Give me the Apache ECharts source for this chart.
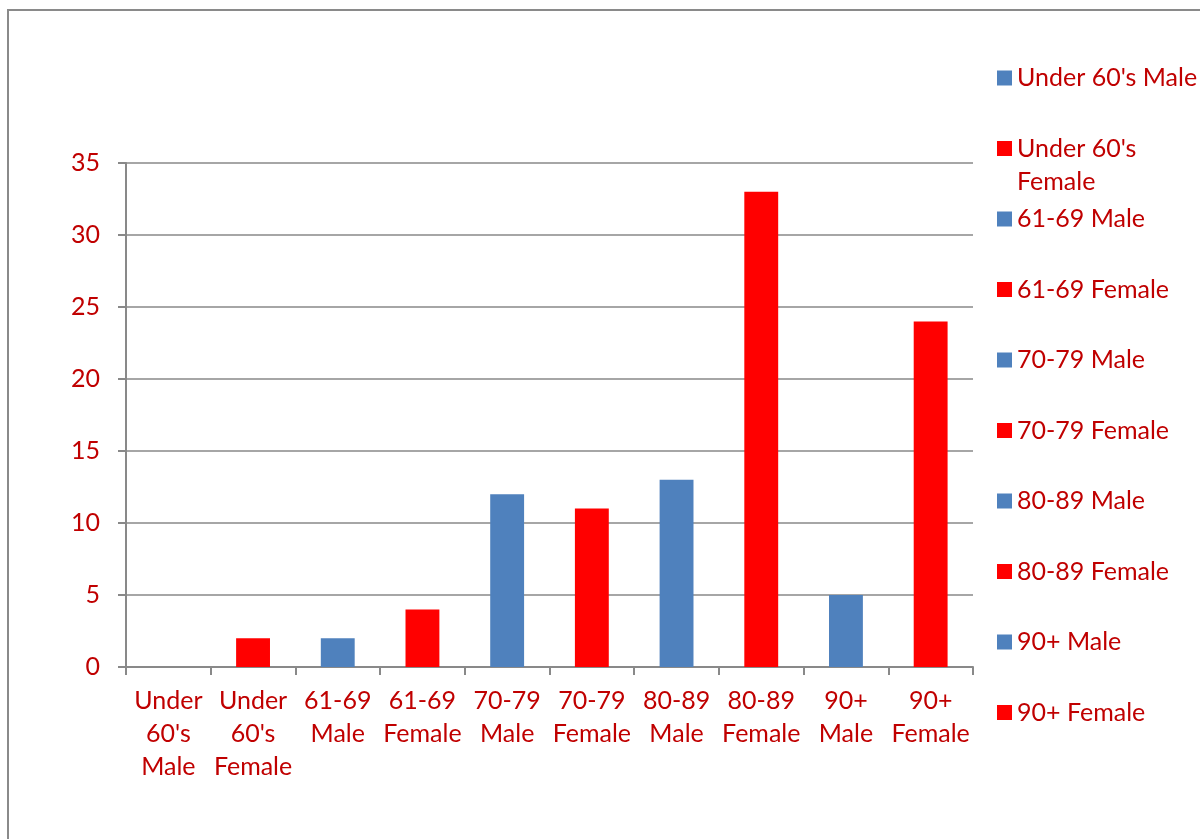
<!DOCTYPE html>
<html>
<head>
<meta charset="utf-8">
<script src="https://cdn.jsdelivr.net/npm/echarts@6/dist/echarts.min.js"></script>
<style>
  html, body { margin: 0; padding: 0; background: #fff; }
  #chart { width: 1200px; height: 839px; }
</style>
</head>
<body>
<div id="chart"></div>
<script>
// Patient counts by age band and sex
const categories = [
  "Under 60's Male", "Under 60's Female",
  "61-69 Male", "61-69 Female",
  "70-79 Male", "70-79 Female",
  "80-89 Male", "80-89 Female",
  "90+ Male", "90+ Female"
];
const values = [0, 2, 2, 4, 12, 11, 13, 33, 5, 24];
const yTicks = [0, 5, 10, 15, 20, 25, 30, 35];

const MALE = '#4f81bd';
const FEMALE = '#ff0000';
const TEXT = '#c00000';
const GRID = '#898989';
const FONT = 'Lato';
const FS = 25;

const chart = echarts.init(document.getElementById('chart'), null, { renderer: 'canvas' });

// one series per category so each gets its own legend entry; a shared stack keeps bars centred
const series = categories.map((name, i) => ({
  name: name,
  type: 'bar',
  stack: 'all',
  barWidth: '40%',
  itemStyle: { color: name.endsWith('Female') ? FEMALE : MALE },
  data: categories.map((c, j) => (j === i ? values[i] : '-'))
}));

// right-hand legend: one entry per row, long names wrap onto a second line
const legendStep = 70.5;
const legendFirst = 78;
const legends = categories.map((name, i) => {
  const wraps = name.length > 16;
  const half = wraps ? 49.5 : 16.5;
  return {
    data: [name],
    orient: 'vertical',
    left: 997,
    top: legendFirst + legendStep * i - half,
    padding: 0,
    itemWidth: 15,
    itemHeight: 15,
    icon: 'rect',
    selectedMode: false,
    formatter: n => {
      if (!wraps) return n;
      const k = n.lastIndexOf(' ');
      return '\n' + n.slice(0, k) + '\n' + n.slice(k + 1);
    },
    textStyle: { color: TEXT, fontFamily: FONT, fontSize: FS, lineHeight: 33 }
  };
});

chart.setOption({
  backgroundColor: '#ffffff',
  animation: false,
  textStyle: { fontFamily: FONT },
  graphic: [{
    type: 'rect',
    shape: { x: 8, y: 10, width: 1400, height: 1000 },
    style: { fill: 'none', stroke: '#8a8a8a', lineWidth: 2 },
    silent: true
  }],
  legend: legends,
  grid: { left: 126, right: 227, top: 163, bottom: 172, containLabel: false },
  xAxis: {
    type: 'category',
    data: categories,
    axisLine: { show: true, lineStyle: { color: GRID, width: 2 } },
    axisTick: { show: true, alignWithLabel: false, length: 8, lineStyle: { color: GRID, width: 2 } },
    axisLabel: {
      color: TEXT, fontFamily: FONT, fontSize: FS, lineHeight: 33, margin: 17,
      interval: 0,
      formatter: v => v.split(' ').join('\n')
    }
  },
  yAxis: {
    type: 'value',
    min: yTicks[0],
    max: yTicks[yTicks.length - 1],
    interval: yTicks[1] - yTicks[0],
    axisLine: { show: true, lineStyle: { color: GRID, width: 2 } },
    axisTick: { show: true, length: 8, lineStyle: { color: GRID, width: 2 } },
    splitLine: { show: true, lineStyle: { color: GRID, width: 1.5 } },
    axisLabel: { color: TEXT, fontFamily: FONT, fontSize: FS, margin: 26 }
  },
  series: series
});
</script>
</body>
</html>
